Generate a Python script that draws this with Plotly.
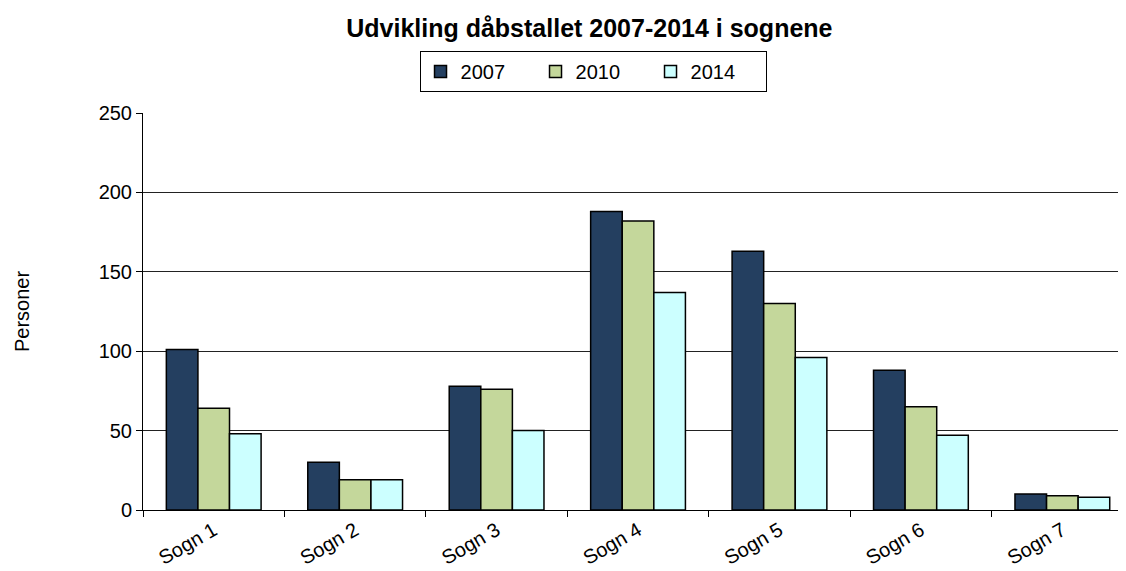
import plotly.graph_objects as go

# data
sogne = ["Sogn 1", "Sogn 2", "Sogn 3", "Sogn 4", "Sogn 5", "Sogn 6", "Sogn 7"]
aar = ["2007", "2010", "2014"]
v2007 = [101, 30, 78, 188, 163, 88, 10]
v2010 = [64, 19, 76, 182, 130, 65, 9]
v2014 = [48, 19, 50, 137, 96, 47, 8]

farver = ["#243F60", "#C4D79B", "#CCFFFF"]

fig = go.Figure()
for navn, vaerdier, farve in zip(aar, [v2007, v2010, v2014], farver):
    fig.add_trace(go.Bar(
        x=sogne,
        y=vaerdier,
        name=navn,
        marker=dict(color=farve, line=dict(color="black", width=1.5)),
    ))

# siden har 8px body-margin, saa figuren goeres tilsvarende mindre
fig.update_layout(
    width=1118,
    height=563,
    margin=dict(l=135, r=0, t=105, b=61),
    paper_bgcolor="white",
    plot_bgcolor="white",
    font=dict(family="Arial, Liberation Sans, sans-serif", size=20, color="black"),
    barmode="group",
    bargap=0.33,
    bargroupgap=0,
    title=dict(
        text="<b>Udvikling dåbstallet 2007-2014 i sognene</b>",
        x=0.520, xanchor="center",
        y=0.9645, yanchor="middle",
        font=dict(size=25),
    ),
    legend=dict(
        orientation="h",
        x=0.4578, xanchor="center",
        y=1.156, yanchor="top",
        bordercolor="black",
        borderwidth=1,
        font=dict(size=20),
        itemwidth=30,
        entrywidth=70,
    ),
    showlegend=True,
)

fig.update_xaxes(
    range=[-0.5, 6.45],
    showline=True, linecolor="black", linewidth=1,
    ticks="outside", tickson="boundaries", ticklen=6, tickcolor="black",
    tickangle=-30,
    showgrid=False,
)
fig.update_yaxes(
    range=[0, 250],
    dtick=50,
    showline=True, linecolor="black", linewidth=1,
    ticks="outside", ticklen=6, tickcolor="black",
    showgrid=True, gridcolor="#222222", gridwidth=1,
    zeroline=False,
    title=dict(text="Personer", font=dict(size=20), standoff=63),
)

fig.write_html("out.html")
